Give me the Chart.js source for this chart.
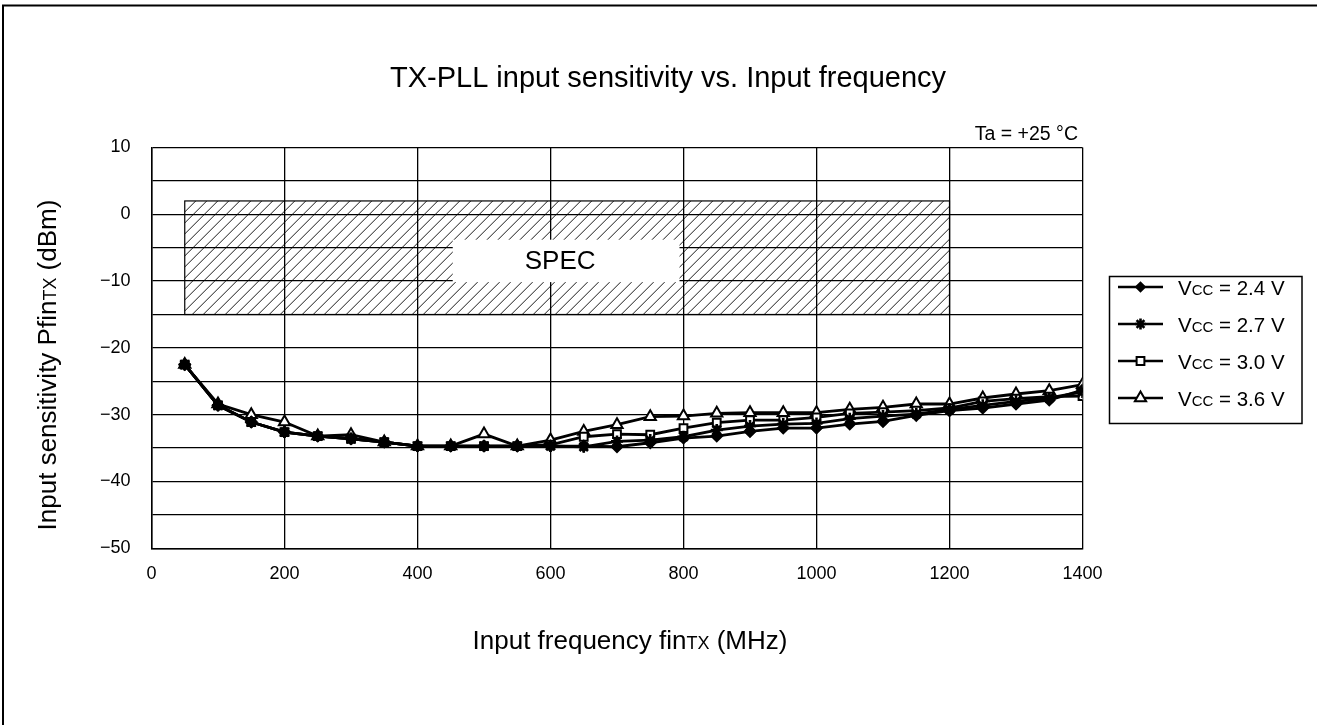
<!DOCTYPE html>
<html>
<head>
<meta charset="utf-8">
<script src="https://cdn.jsdelivr.net/npm/chart.js@4.4.1/dist/chart.umd.min.js"></script>
<style>
html,body{margin:0;padding:0;background:#fff;}
#wrap{width:1317px;height:725px;position:relative;}
canvas{display:block;}
</style>
</head>
<body>
<div id="wrap"><canvas id="c" width="1317" height="725" style="width:1317px;height:725px"></canvas></div>
<script>
// ── DATA ──
const freqs = [50,100,150,200,250,300,350,400,450,500,550,600,650,700,750,800,850,900,950,1000,1050,1100,1150,1200,1250,1300,1350,1400];
const vcc24 = [-22.5,-28.6,-31.1,-32.6,-33.2,-33.6,-34.1,-34.7,-34.7,-34.7,-34.7,-34.7,-34.7,-34.8,-34.2,-33.5,-33.2,-32.5,-32.0,-32.0,-31.4,-31.0,-30.1,-29.4,-29.0,-28.4,-27.8,-26.3];
const vcc27 = [-22.5,-28.6,-31.1,-32.6,-33.2,-33.6,-34.1,-34.7,-34.7,-34.7,-34.7,-34.7,-34.8,-34.0,-33.8,-33.3,-32.3,-31.7,-31.4,-31.3,-30.6,-30.2,-29.9,-29.2,-28.6,-28.0,-27.5,-26.6];
const vcc30 = [-22.5,-28.6,-31.1,-32.6,-33.2,-33.6,-34.1,-34.7,-34.7,-34.7,-34.7,-34.5,-33.3,-32.9,-33.0,-32.0,-31.2,-30.8,-30.8,-30.4,-29.8,-29.6,-29.4,-29.0,-28.0,-27.6,-27.3,-27.2];
const vcc36 = [-22.5,-28.4,-30.0,-31.1,-33.2,-33.0,-34.1,-34.7,-34.7,-32.9,-34.7,-33.8,-32.5,-31.5,-30.3,-30.2,-29.8,-29.7,-29.7,-29.7,-29.2,-28.9,-28.4,-28.4,-27.5,-26.9,-26.4,-25.5];
const seriesNames = ['2.4','2.7','3.0','3.6'];
const xTicks = [0,200,400,600,800,1000,1200,1400];
const yTicks = [10,0,-10,-20,-30,-40,-50];
// spec window (MHz / dBm)
const specFreq = [50,1200];
const specLevel = [2,-15];
const specLabelFreq = [453,794];
const specLabelLevel = [-3.8,-10.15];

const FONT = '"Liberation Sans", Arial, sans-serif';
const pts = (ys) => freqs.map((f,i) => ({x:f, y:ys[i]}));

// ── MARKER STYLES ──
const markers = [
  {style:'rectRot', fill:'#000', r:5.5, lr:4.5, bw:1.8},
  {style:'star', fill:'#000', r:6, lr:5.5, bw:2.6},
  {style:'rect', fill:'#fff', r:5.5, lr:5.5, bw:2},
  {style:'triangle', fill:'#fff', r:6.5, lr:6.5, bw:2}
];
const seriesData = [vcc24, vcc27, vcc30, vcc36];

function ds(i){
  const m = markers[i];
  return {
    label:'Vcc = '+seriesNames[i]+' V',
    data:pts(seriesData[i]),
    borderColor:'#000',borderWidth:2.8,
    pointStyle:m.style,pointRadius:m.r,pointBorderWidth:m.bw,
    pointBorderColor:'#000',pointBackgroundColor:m.fill,
    tension:0,fill:false
  };
}

// text with small caps parts on the same baseline
function drawParts(ctx, parts, x, y){
  let w = 0;
  parts.forEach(p => { ctx.font = p[1]+'px '+FONT; w += ctx.measureText(p[0]).width; });
  let cx = x - w/2;
  ctx.textAlign = 'left';
  parts.forEach(p => { ctx.font = p[1]+'px '+FONT; ctx.fillText(p[0], cx, y); cx += ctx.measureText(p[0]).width; });
}

// ── SPEC HATCH ──
const specPlugin = {
  id:'spec',
  beforeDatasetsDraw(chart){
    const {ctx, scales:{x, y}} = chart;
    const x0 = x.getPixelForValue(specFreq[0]), x1 = x.getPixelForValue(specFreq[1]);
    const y0 = y.getPixelForValue(specLevel[0]), y1 = y.getPixelForValue(specLevel[1]);
    ctx.save();
    ctx.beginPath(); ctx.rect(x0, y0, x1-x0, y1-y0); ctx.clip();
    ctx.strokeStyle = '#000'; ctx.lineWidth = 0.9;
    const h = y1 - y0;
    ctx.beginPath();
    for(let k = x0 - h; k < x1 + 2; k += 11){
      ctx.moveTo(k, y1); ctx.lineTo(k + h, y0);
    }
    ctx.stroke();
    ctx.restore();
    ctx.save();
    ctx.strokeStyle = '#000'; ctx.lineWidth = 1.2;
    ctx.strokeRect(x0, y0, x1-x0, y1-y0);
    // label box
    const bx0 = x.getPixelForValue(specLabelFreq[0]), bx1 = x.getPixelForValue(specLabelFreq[1]);
    const by0 = y.getPixelForValue(specLabelLevel[0]), by1 = y.getPixelForValue(specLabelLevel[1]);
    ctx.fillStyle = '#fff';
    ctx.fillRect(bx0, by0, bx1-bx0, by1-by0);
    ctx.fillStyle = '#000';
    ctx.font = '26px '+FONT; ctx.textAlign = 'center'; ctx.textBaseline = 'middle';
    ctx.fillText('SPEC', (bx0+bx1)/2 - 6, (by0+by1)/2 + 1);
    ctx.restore();
  }
};

// ── DECORATION: frame, titles, legend ──
const decoPlugin = {
  id:'deco',
  afterDraw(chart){
    const ctx = chart.ctx;
    ctx.save();
    ctx.strokeStyle = '#000'; ctx.lineWidth = 2;
    ctx.beginPath(); ctx.moveTo(3, 725); ctx.lineTo(3, 5.5); ctx.lineTo(1317, 5.5); ctx.stroke();

    ctx.fillStyle = '#000'; ctx.textBaseline = 'alphabetic';
    ctx.font = '29px '+FONT; ctx.textAlign = 'center';
    ctx.fillText('TX-PLL input sensitivity vs. Input frequency', 668, 87);

    ctx.font = '19.5px '+FONT; ctx.textAlign = 'right';
    ctx.fillText('Ta = +25 \u00B0C', 1078, 140);

    drawParts(ctx, [['Input frequency fin',26],['TX',18],[' (MHz)',26]], 630, 649);

    ctx.save();
    ctx.translate(56, 365); ctx.rotate(-Math.PI/2);
    drawParts(ctx, [['Input sensitivity Pfin',26],['TX',18],[' (dBm)',26]], 0, 0);
    ctx.restore();

    // legend
    ctx.lineWidth = 1.5;
    ctx.strokeRect(1109.5, 276.5, 192.5, 147);
    markers.forEach((m, i) => {
      const ly = 287 + i*37;
      ctx.strokeStyle = '#000'; ctx.lineWidth = 2.6;
      ctx.beginPath(); ctx.moveTo(1118, ly); ctx.lineTo(1163, ly); ctx.stroke();
      ctx.fillStyle = m.fill; ctx.lineWidth = m.bw;
      Chart.helpers.drawPoint(ctx, {pointStyle:m.style, radius:m.lr, rotation:0, borderWidth:m.bw}, 1140.5, ly);
      ctx.fillStyle = '#000';
      ctx.textAlign = 'left'; ctx.textBaseline = 'alphabetic';
      let tx = 1178;
      ctx.font = '20.5px '+FONT; ctx.fillText('V', tx, ly+7.5); tx += ctx.measureText('V').width;
      ctx.font = '15px '+FONT; ctx.fillText('CC', tx, ly+7.5); tx += ctx.measureText('CC').width;
      ctx.font = '20.5px '+FONT; ctx.fillText(' = '+seriesNames[i]+' V', tx, ly+7.5);
    });
    ctx.restore();
  }
};

new Chart(document.getElementById('c'), {
  type:'line',
  data:{datasets:[ds(0),ds(1),ds(2),ds(3)]},
  plugins:[specPlugin, decoPlugin],
  options:{
    responsive:false,animation:false,devicePixelRatio:1,
    layout:{padding:{left:0,top:147.5,right:234.5,bottom:0}},
    plugins:{legend:{display:false},tooltip:{enabled:false}},
    scales:{
      x:{
        type:'linear',min:0,max:1400,
        afterFit(s){ s.height = 725 - 548.3; },
        afterBuildTicks(s){ s.ticks = xTicks.map(v => ({value:v})); },
        grid:{color:'#000',lineWidth:1.3,drawTicks:false},
        border:{color:'#000',width:1.5},
        ticks:{color:'#000',padding:15,font:{family:FONT,size:18},maxRotation:0,callback:v => String(v)}
      },
      y:{
        type:'linear',min:-50,max:10,
        afterFit(s){ s.width = 151.5; },
        afterBuildTicks(s){
          const t = [];
          for(let v = -50; v <= 10; v += 5) t.push({value:v});
          s.ticks = t;
        },
        grid:{color:'#000',lineWidth:1.3,drawTicks:false},
        border:{color:'#000',width:1.5},
        ticks:{color:'#000',padding:21,font:{family:FONT,size:18},
          callback:v => yTicks.includes(v) ? String(v).replace('-','\u2212') : ''}
      }
    }
  }
});
</script>
</body>
</html>
